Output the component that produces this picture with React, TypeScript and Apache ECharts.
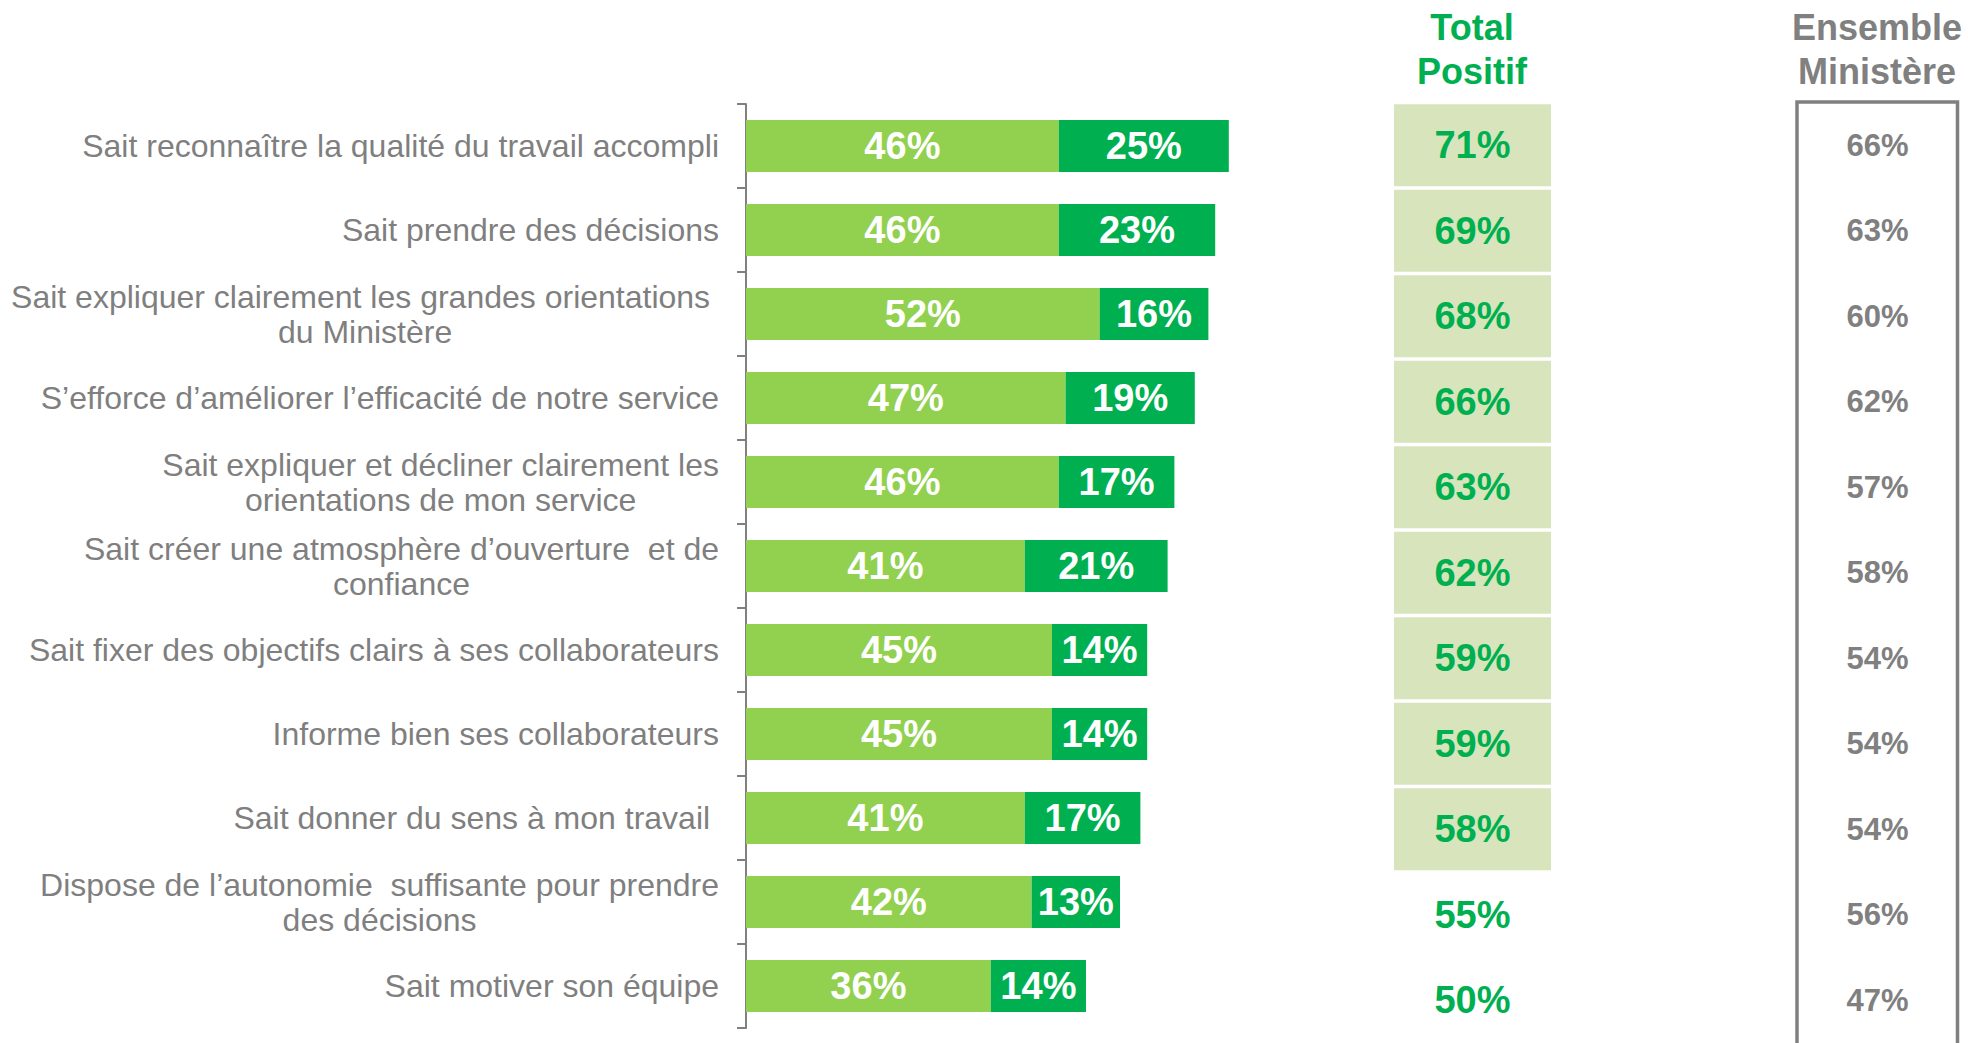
import React, { useEffect, useRef } from 'react';
import * as echarts from 'echarts';

const categories = [
  'Sait reconnaître la qualité du travail accompli',
  'Sait prendre des décisions',
  'Sait expliquer clairement les grandes orientations \ndu Ministère',
  'S’efforce d’améliorer l’efficacité de notre service',
  'Sait expliquer et décliner clairement les\norientations de mon service',
  'Sait créer une atmosphère d’ouverture  et de\nconfiance',
  'Sait fixer des objectifs clairs à ses collaborateurs',
  'Informe bien ses collaborateurs',
  'Sait donner du sens à mon travail ',
  'Dispose de l’autonomie  suffisante pour prendre\ndes décisions',
  'Sait motiver son équipe',
];
const plutotOui = [46, 46, 52, 47, 46, 41, 45, 45, 41, 42, 36];
const toutAFaitOui = [25, 23, 16, 19, 17, 21, 14, 14, 17, 13, 14];
const totalPositif = [71, 69, 68, 66, 63, 62, 59, 59, 58, 55, 50];
const ensembleMinistere = [66, 63, 60, 62, 57, 58, 54, 54, 54, 56, 47];
const highlightedRows = 9;

const FONT = '"Liberation Sans", Arial, Helvetica, sans-serif';
const GRAY = '#808080';
const LIGHT_GREEN = '#92d050';
const DARK_GREEN = '#00b050';
const CELL_BG = '#d8e4bc';

export default function App() {
  const ref = useRef<HTMLDivElement>(null);

  useEffect(() => {
    if (!ref.current) return;
    const chart = echarts.init(ref.current, undefined, { renderer: 'svg' });

    const barLabel = {
      show: true,
      position: 'inside',
      color: '#ffffff',
      fontFamily: FONT,
      fontWeight: 'bold',
      fontSize: 38,
      formatter: (p: any) => `${p.value}%`,
    };

    const hiddenCat = (gridIndex: number) => ({
      type: 'category',
      gridIndex,
      data: categories,
      inverse: true,
      show: false,
    });
    const hiddenVal = (gridIndex: number) => ({
      type: 'value',
      gridIndex,
      min: 0,
      max: 1,
      show: false,
    });

    chart.setOption({
      animation: false,
      backgroundColor: '#ffffff',
      grid: [
        { left: 746, right: 542, top: 104, bottom: 15 },
        { left: 1394, width: 157, top: 102.5, bottom: -7.5 },
        { left: 1797, width: 161, top: 102.5, bottom: -7.5 },
      ],
      xAxis: [
        { type: 'value', gridIndex: 0, min: 0, max: 100, show: false },
        hiddenVal(1),
        hiddenVal(2),
      ],
      yAxis: [
        {
          type: 'category',
          gridIndex: 0,
          data: categories,
          inverse: true,
          axisLine: { show: true, lineStyle: { color: GRAY, width: 2 } },
          axisTick: { show: true, length: 9, lineStyle: { color: GRAY, width: 2 } },
          splitLine: { show: false },
          axisLabel: {
            interval: 0,
            margin: 27,
            align: 'right',
            color: '#7f7f7f',
            fontFamily: FONT,
            fontSize: 32,
            lineHeight: 35,
            formatter: (v: string) =>
              v
                .split('\n')
                .map((l) => `{c|${l}}`)
                .join('\n'),
            rich: {
              c: {
                align: 'center',
                color: '#7f7f7f',
                fontFamily: FONT,
                fontSize: 32,
                lineHeight: 35,
              },
            },
          },
        },
        hiddenCat(1),
        hiddenCat(2),
      ],
      series: [
        {
          name: 'Plutôt oui',
          type: 'bar',
          stack: 'total',
          xAxisIndex: 0,
          yAxisIndex: 0,
          barWidth: 52,
          data: plutotOui,
          itemStyle: { color: LIGHT_GREEN },
          label: barLabel,
        },
        {
          name: 'Tout à fait oui',
          type: 'bar',
          stack: 'total',
          xAxisIndex: 0,
          yAxisIndex: 0,
          barWidth: 52,
          data: toutAFaitOui,
          itemStyle: { color: DARK_GREEN },
          label: barLabel,
        },
        {
          name: 'Total Positif',
          type: 'bar',
          xAxisIndex: 1,
          yAxisIndex: 1,
          barWidth: 82,
          data: totalPositif.map((v, i) => ({
            value: 1,
            total: v,
            itemStyle: { color: i < highlightedRows ? CELL_BG : 'rgba(0,0,0,0)' },
          })),
          label: {
            show: true,
            position: 'inside',
            color: DARK_GREEN,
            fontFamily: FONT,
            fontWeight: 'bold',
            fontSize: 38,
            formatter: (p: any) => `${p.data.total}%`,
          },
        },
        {
          name: 'Ensemble Ministère',
          type: 'bar',
          xAxisIndex: 2,
          yAxisIndex: 2,
          barWidth: 82,
          data: ensembleMinistere.map((v) => ({
            value: 1,
            total: v,
            itemStyle: { color: 'rgba(0,0,0,0)' },
          })),
          label: {
            show: true,
            position: 'inside',
            color: GRAY,
            fontFamily: FONT,
            fontWeight: 'bold',
            fontSize: 31,
            formatter: (p: any) => `${p.data.total}%`,
          },
        },
      ],
      graphic: [
        {
          type: 'text',
          x: 1472,
          y: 5.5,
          style: {
            text: 'Total\nPositif',
            align: 'center',
            verticalAlign: 'top',
            fill: DARK_GREEN,
            font: `bold 36px ${FONT}`,
            lineHeight: 44,
          },
        },
        {
          type: 'text',
          x: 1877,
          y: 5.5,
          style: {
            text: 'Ensemble\nMinistère',
            align: 'center',
            verticalAlign: 'top',
            fill: GRAY,
            font: `bold 36px ${FONT}`,
            lineHeight: 44,
          },
        },
        {
          type: 'rect',
          shape: { x: 1797, y: 102, width: 160.5, height: 1000 },
          style: { fill: 'none', stroke: GRAY, lineWidth: 3.5 },
          silent: true,
        },
      ],
    });

    return () => chart.dispose();
  }, []);

  return (
    <div
      ref={ref}
      style={{ position: 'fixed', left: 0, top: 0, width: 1968, height: 1043 }}
    />
  );
}
